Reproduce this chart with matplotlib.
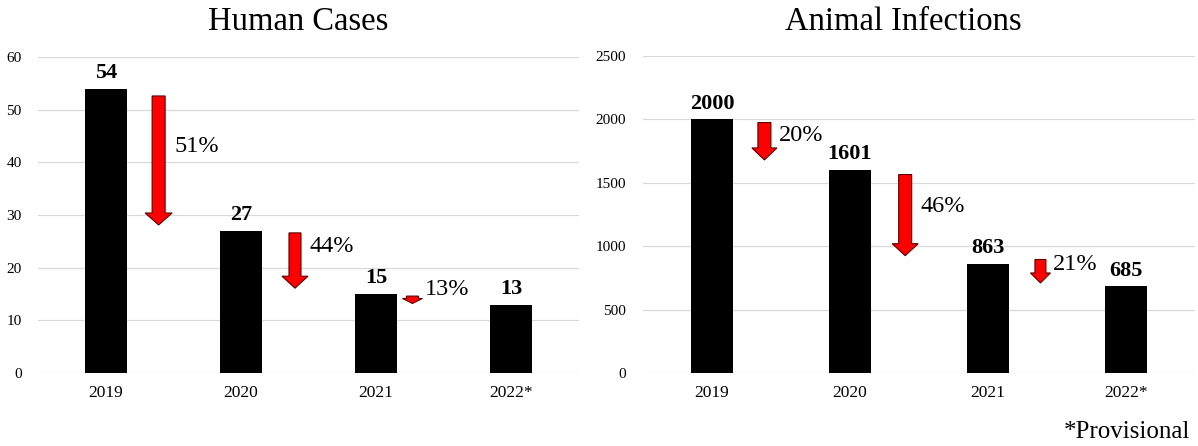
import matplotlib
matplotlib.use("Agg")
import matplotlib.pyplot as plt
from matplotlib.patches import FancyArrow

plt.rcParams['font.family'] = ['Liberation Serif', 'DejaVu Serif']

years = ["2019", "2020", "2021", "2022*"]
human_cases = [54, 27, 15, 13]
animal_infections = [2000, 1601, 863, 685]

human_pct = ["51%", "44%", "13%"]
animal_pct = ["20%", "46%", "21%"]
# arrow annotations: (x, y top, y tip, text y)
human_arrows = [(0.39, 52.6, 28.1, 43.0), (1.40, 26.6, 16.1, 24.0), (2.27, 14.6, 13.2, 15.8)]
animal_arrows = [(0.38, 1975, 1680, 1870), (1.40, 1565, 925, 1310), (2.38, 895, 710, 855)]
# arrow shapes: (shaft width px, head width px, head length px)
human_shapes = [(13, 27, 12), (12, 26, 12), (12, 20, 5)]
animal_shapes = [(13, 25, 12), (13, 26, 12), (11, 20, 10)]

fig = plt.figure(figsize=(11.98, 4.46), dpi=100)
ax1 = fig.add_axes([0.0321, 0.1637, 0.4508, 0.7085])
ax2 = fig.add_axes([0.5367, 0.1637, 0.4608, 0.7108])


def draw(ax, vals, ymax, step, pcts, arrows, shapes):
    x = list(range(len(vals)))
    ax.bar(x, vals, width=0.31, color='black', zorder=3)
    ax.set_xlim(-0.5, len(vals) - 0.5)
    ax.set_ylim(0, ymax)
    ax.set_yticks(range(0, ymax + 1, step))
    ax.set_xticks(x)
    ax.set_xticklabels(years, fontsize=12.5)
    ax.tick_params(axis='x', length=0, pad=9)
    ax.tick_params(axis='y', length=0, pad=12, labelsize=11)
    for s in ax.spines.values():
        s.set_visible(False)
    ax.grid(axis='y', color='#d9d9d9', linewidth=0.9, zorder=0)
    for xi, v in zip(x, vals):
        ax.annotate(str(v), (xi, v), xytext=(0, 4), textcoords='offset points',
                    ha='center', va='bottom', fontsize=16, fontweight='bold')
    fig.canvas.draw()
    bb = ax.get_window_extent()
    px_x = (len(vals)) / bb.width       # data x-units per pixel
    px_y = ymax / bb.height             # data y-units per pixel
    for (axx, y0, y1, ty), (sw, hw, hl), p in zip(arrows, shapes, pcts):
        arr = FancyArrow(axx, y0, 0, y1 - y0, width=sw * px_x, head_width=hw * px_x,
                         head_length=hl * px_y, length_includes_head=True,
                         fc='#ff0000', ec='#5a0000', lw=0.8, zorder=4)
        ax.add_patch(arr)
        ax.text(axx + (hw / 2 + 2) * px_x, ty, p, fontsize=17.5, ha='left', va='center')


draw(ax1, human_cases, 60, 10, human_pct, human_arrows, human_shapes)
draw(ax2, animal_infections, 2500, 500, animal_pct, animal_arrows, animal_shapes)

fig.text(298 / 1198, 1 - 22 / 446, "Human Cases", ha='center', va='center', fontsize=23.5)
fig.text(903 / 1198, 1 - 22 / 446, "Animal Infections", ha='center', va='center', fontsize=23.5)
fig.text(1190 / 1198, 1 - 432 / 446, "*Provisional", ha='right', va='center', fontsize=18)

fig.savefig("out.png", dpi=100)
